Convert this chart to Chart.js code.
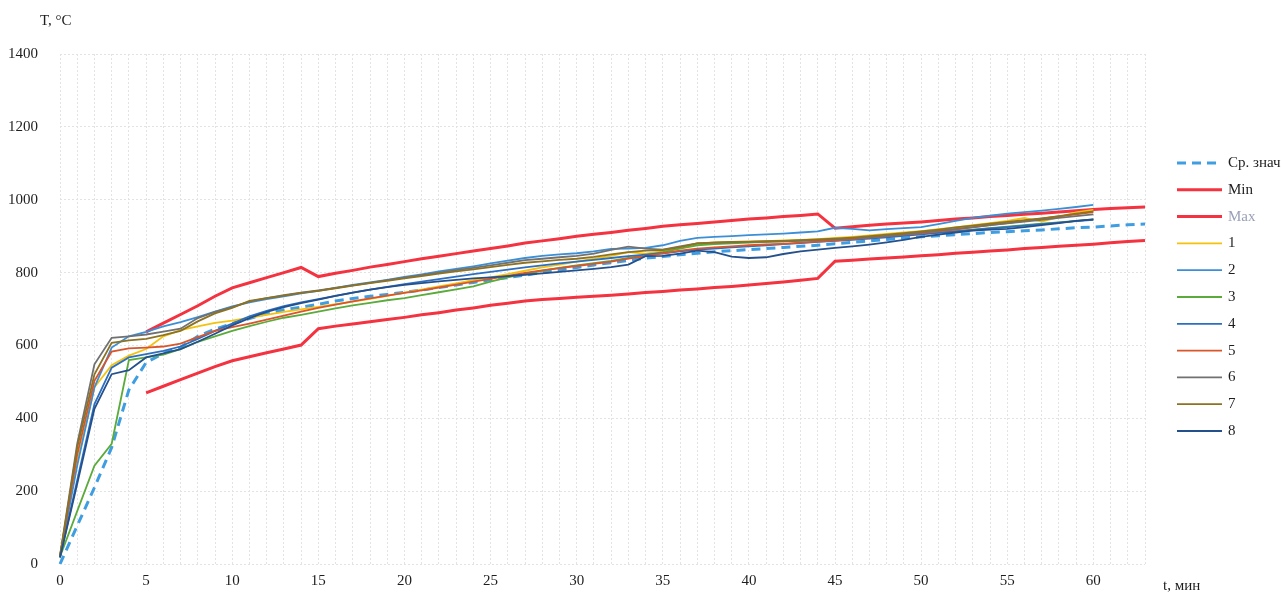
<!DOCTYPE html>
<html>
<head>
<meta charset="utf-8">
<script src="https://cdn.jsdelivr.net/npm/chart.js@4"></script>
<style>
  html, body { margin: 0; padding: 0; background: #fff; }
  #wrap { width: 1282px; height: 595px; }
</style>
</head>
<body>
<div id="wrap"><canvas id="chart" width="1282" height="595"></canvas></div>
<script>
// минуты (категории оси X)
const minutes = [0,1,2,3,4,5,6,7,8,9,10,11,12,13,14,15,16,17,18,19,20,21,22,23,24,25,26,27,28,29,30,
  31,32,33,34,35,36,37,38,39,40,41,42,43,44,45,46,47,48,49,50,51,52,53,54,55,56,57,58,59,60,61,62,63];
const yTicks = [0, 200, 400, 600, 800, 1000, 1200, 1400];

// Ср. знач
const meanT = [0,105,210,320,478,553,578,595,625,645,
  660,674,688,698,705,713,722,729,735,740,
  746,752,759,766,773,780,786,793,800,807,
  814,821,827,833,840,844,849,853,857,860,
  863,866,869,872,875,879,883,887,891,895,
  898,901,904,907,910,912,915,917,920,923,
  925,928,931,933];
const minT = [null,null,null,null,null,470,488,506,524,542,
  558,569,580,590,601,646,653,659,665,671,
  677,684,690,697,703,710,716,722,726,729,
  732,735,738,741,745,748,752,755,759,762,
  766,770,774,779,784,831,834,837,840,843,
  846,849,853,856,859,862,866,869,872,875,
  878,882,885,888];
const maxT = [null,null,null,null,null,637,661,685,709,735,
  758,772,786,800,814,789,798,806,815,822,
  830,838,845,852,859,866,873,881,887,893,
  900,905,910,916,921,927,931,935,939,943,
  947,950,954,957,961,922,926,930,933,936,
  939,943,947,950,954,957,960,963,966,970,
  973,976,978,980];

const s1 = [25,280,485,546,572,590,625,642,652,662,
  668,676,684,692,699,706,713,720,728,736,
  745,753,762,770,779,787,796,805,814,822,
  830,838,846,856,852,858,868,880,883,884,
  885,886,888,890,892,895,898,902,906,910,
  914,919,924,930,936,942,950,940,952,965,972];
const s2 = [20,270,485,594,625,637,652,664,678,693,
  707,718,727,735,743,750,758,766,773,780,
  788,795,803,810,817,825,833,840,846,850,
  853,858,865,866,868,875,887,895,898,900,
  903,905,907,910,913,923,920,916,919,922,
  925,933,942,950,956,962,966,970,975,980,986];
const s3 = [20,145,270,330,560,567,575,590,610,625,
  640,653,665,676,684,693,702,710,717,724,
  730,738,746,754,762,775,787,797,805,813,
  820,826,832,840,848,856,866,875,878,880,
  882,884,886,888,890,892,894,897,900,903,
  906,910,914,918,922,926,930,934,938,942,946];
const s4 = [18,230,439,539,567,576,585,597,618,640,
  660,680,695,708,718,727,736,745,753,761,
  768,775,782,789,796,802,808,814,820,825,
  830,835,840,845,849,853,858,863,866,869,
  872,875,878,881,884,887,890,893,897,901,
  905,909,913,917,921,925,929,933,937,941,945];
const s5 = [20,300,503,583,592,594,597,605,623,640,
  650,660,671,682,693,703,712,721,729,737,
  744,751,759,767,775,783,791,799,806,812,
  818,824,830,838,845,853,860,866,869,872,
  875,877,879,882,885,888,892,896,900,904,
  908,913,918,924,930,936,942,948,954,960,966];
const s6 = [22,330,548,621,625,630,638,646,675,692,
  705,720,730,738,745,751,758,765,772,779,
  786,793,800,807,813,820,827,834,838,842,
  846,852,862,871,866,863,872,880,882,883,
  884,885,886,887,889,891,894,897,901,905,
  910,915,920,925,930,935,940,945,950,955,960];
const s7 = [20,320,521,607,614,618,628,640,666,688,
  703,722,730,737,744,750,757,764,771,777,
  784,790,797,803,809,815,821,827,831,835,
  838,843,850,856,860,862,870,880,882,884,
  885,886,887,889,891,893,896,900,904,908,
  913,918,924,929,934,939,944,949,955,962,968];
const s8 = [18,220,426,521,532,567,578,590,610,632,
  655,675,692,705,716,726,736,745,753,760,
  766,771,776,780,784,787,790,794,798,802,
  806,810,815,822,845,846,852,860,856,844,
  840,842,851,858,863,868,872,877,883,890,
  898,904,910,915,918,920,925,930,936,942,946];

const seriesNames = ['Ср. знач', 'Min', 'Max', '1', '2', '3', '4', '5', '6', '7', '8'];
const seriesData = [meanT, minT, maxT, s1, s2, s3, s4, s5, s6, s7, s8];
const seriesColors = ['#3f9ee2', '#f5323f', '#f5323f', '#f4c20d', '#3b8fd6', '#5aab3a',
  '#2c6fc0', '#d9552b', '#717171', '#8c7222', '#24508c'];

const FONT = '"Liberation Serif", "DejaVu Serif", serif';

const datasets = seriesData.map((d, i) => ({
  label: seriesNames[i],
  data: d,
  borderColor: seriesColors[i],
  backgroundColor: seriesColors[i],
  borderWidth: i < 3 ? 3 : 1.8,
  borderDash: i === 0 ? [9, 6] : [],
  pointRadius: 0,
  tension: 0,
  fill: false,
  order: 20 - i
}));

// подписи осей и легенда справа
const extras = {
  id: 'extras',
  afterDraw(chart) {
    const ctx = chart.ctx;
    const area = chart.chartArea;
    ctx.save();
    ctx.font = '15px ' + FONT;
    ctx.fillStyle = '#1e1e1e';
    ctx.textBaseline = 'middle';
    ctx.textAlign = 'left';
    ctx.fillText('T, °C', 40, 21);
    ctx.fillText('t, мин', area.right + 18, 586);

    chart.data.datasets.forEach((ds, i) => {
      const y = 163 + i * 26.8;
      ctx.strokeStyle = ds.borderColor;
      ctx.lineWidth = ds.borderWidth;
      ctx.setLineDash(ds.borderDash);
      ctx.beginPath();
      ctx.moveTo(area.right + 32, y);
      ctx.lineTo(area.right + 77, y);
      ctx.stroke();
      ctx.setLineDash([]);
      ctx.fillStyle = ds.label === 'Max' ? '#9aa0b8' : '#1e1e1e';
      ctx.fillText(ds.label, area.right + 83, y);
    });
    ctx.restore();
  }
};

new Chart(document.getElementById('chart').getContext('2d'), {
  type: 'line',
  data: { labels: minutes, datasets: datasets },
  options: {
    responsive: false,
    animation: false,
    layout: { padding: { left: 0, top: 54, right: 137, bottom: 0 } },
    plugins: {
      legend: { display: false },
      tooltip: { enabled: false }
    },
    scales: {
      x: {
        type: 'category',
        offset: false,
        grid: { color: '#e3e3e3', lineWidth: 1, drawTicks: false },
        border: { display: false, dash: [2, 2] },
        ticks: {
          autoSkip: false,
          maxRotation: 0,
          padding: 8,
          color: '#1e1e1e',
          font: { family: FONT, size: 15 },
          callback: function(value) {
            const m = minutes[value];
            return (m % 5 === 0 && m <= 60) ? String(m) : '';
          }
        },
        afterFit: function(scale) { scale.height = 27; }
      },
      y: {
        min: yTicks[0],
        max: yTicks[yTicks.length - 1],
        grid: { color: '#e3e3e3', lineWidth: 1, drawTicks: false },
        border: { display: false, dash: [2, 2] },
        ticks: {
          stepSize: 200,
          padding: 22,
          color: '#1e1e1e',
          font: { family: FONT, size: 15 },
          callback: function(value) { return String(value); }
        },
        afterFit: function(scale) { scale.width = 60; }
      }
    }
  },
  plugins: [extras]
});
</script>
</body>
</html>
